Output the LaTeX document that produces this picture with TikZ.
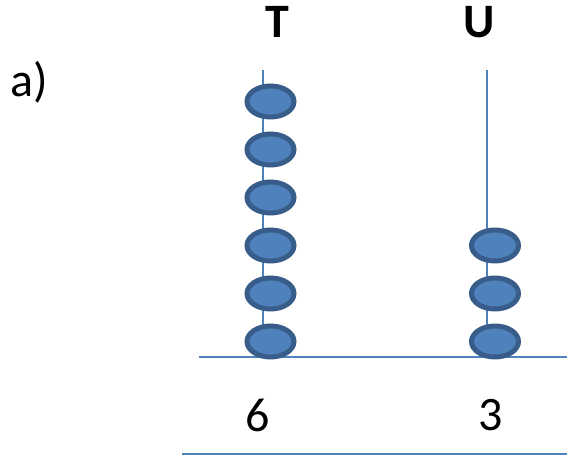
\documentclass[tikz,border=0pt]{standalone}
\usepackage{fontspec}
\setmainfont{Carlito}
\usetikzlibrary{shapes.geometric}
\definecolor{rodblue}{HTML}{4F81BD}
\definecolor{beadfill}{HTML}{4F81BD}
\definecolor{beadedge}{HTML}{385D8A}
\tikzset{
  bead/.style={ellipse, draw=beadedge, fill=beadfill, line width=5pt,
    minimum width=47pt, minimum height=31pt, inner sep=0pt},
  rod/.style={draw=rodblue, line width=1.6pt},
  base/.style={draw=rodblue, line width=2.2pt},
  lbl/.style={inner sep=0pt, font=\fontsize{48}{56}\selectfont},
}
\begin{document}
\begin{tikzpicture}[x=1pt,y=-1pt]
\useasboundingbox (0,0) rectangle (567,455);
% labels
\node[lbl, font=\fontsize{48}{56}\selectfont\bfseries] (T) at (277,22) {T};
\node[lbl, font=\fontsize{48}{56}\selectfont\bfseries] (U) at (479,22) {U};
\node[lbl, anchor=base west] (a) at (10,96) {a)};
% rods
\coordinate (Ttop) at (263,70);
\coordinate (Tbot) at (263,357);
\coordinate (Utop) at (487,70);
\coordinate (Ubot) at (487,357);
\draw[rod] (Ttop) -- (Tbot);
\draw[rod] (Utop) -- (Ubot);
% base lines
\coordinate (L1a) at (199,357);
\coordinate (L1b) at (567,357);
\coordinate (L2a) at (182,453.9);
\coordinate (L2b) at (567,453.9);
\draw[base] (L1a) -- (L1b);
\draw[base] (L2a) -- (L2b);
% beads tens
\foreach \i/\y in {1/101.5,2/149.5,3/197.5,4/245.5,5/293.5,6/341.5}
  \node[bead] (t\i) at (270.5,\y) {};
% beads units
\foreach \i/\y in {1/245.5,2/293.5,3/341.5}
  \node[bead] (u\i) at (495,\y) {};
% digits
\node[lbl] (six) at (258,415.5) {6};
\node[lbl] (three) at (490.5,415.5) {3};
\end{tikzpicture}
\end{document}
